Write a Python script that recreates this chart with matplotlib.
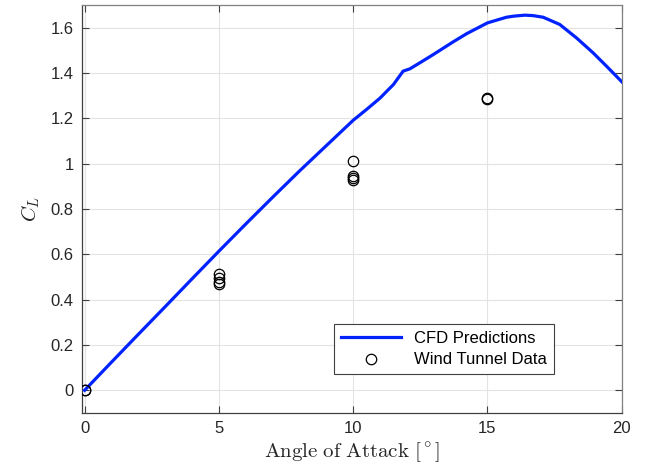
import matplotlib
matplotlib.use('Agg')
import matplotlib.pyplot as plt

# CFD curve
cfd_aoa = [0, 1, 2, 3, 4, 5, 6, 7, 8, 9, 10, 10.5, 11, 11.5, 11.86, 12.11,
           12.5, 12.98, 13.72, 14.22, 15.0, 15.71, 16.0, 16.39, 16.7, 17.07,
           17.69, 18.31, 18.93, 19.43, 20]
cfd_cl = [0, 0.124, 0.247, 0.369, 0.492, 0.614, 0.734, 0.852, 0.968, 1.08, 1.192,
          1.24, 1.29, 1.35, 1.409, 1.419, 1.447, 1.482, 1.538, 1.574, 1.622,
          1.647, 1.652, 1.656, 1.654, 1.647, 1.615, 1.556, 1.490, 1.431, 1.362]

# wind tunnel points
wt_aoa = [0, 0, 5, 5, 5, 5, 10, 10, 10, 10, 15, 15]
wt_cl = [0, 0.002, 0.513, 0.496, 0.480, 0.469, 1.010, 0.946, 0.939, 0.929, 1.290, 1.285]

plt.rcParams['font.family'] = ['Liberation Sans', 'DejaVu Sans']
plt.rcParams['mathtext.fontset'] = 'cm'

fig = plt.figure(figsize=(6.45, 4.73), dpi=100)
ax = fig.add_axes([0.127, 0.127, 0.837, 0.862])

ax.plot(cfd_aoa, cfd_cl, '-', color='#0022ff', lw=2.3, label='CFD Predictions', zorder=3)
ax.plot(wt_aoa, wt_cl, 'o', mfc='none', mec='black', ms=7.5, mew=0.9,
        label='Wind Tunnel Data', zorder=4)

ax.set_xlim(-0.1, 20)
ax.set_ylim(-0.1, 1.7)
ax.set_xticks([0, 5, 10, 15, 20])
ax.set_yticks([0, 0.2, 0.4, 0.6, 0.8, 1, 1.2, 1.4, 1.6])
ax.set_yticklabels(['0', '0.2', '0.4', '0.6', '0.8', '1', '1.2', '1.4', '1.6'])

ax.grid(True, color='#e3e3e3', lw=0.8)
ax.set_axisbelow(True)
for s in ax.spines.values():
    s.set_color('#808080')
    s.set_linewidth(0.9)
ax.spines['bottom'].set_color('#404040')
ax.spines['left'].set_color('#404040')
ax.tick_params(direction='in', top=True, right=True, length=5, width=0.8,
               colors='#404040', labelsize=12, labelcolor='#262626', pad=6)

ax.set_xlabel(r'$\mathrm{Angle\ of\ Attack\ [^\circ]}$', fontsize=15, color='#262626', labelpad=3)
ax.set_ylabel(r'$C_L$', fontsize=15, color='#262626', labelpad=6)

leg = ax.legend(loc='lower left', bbox_to_anchor=(0.452, 0.075), fontsize=12,
                frameon=True, fancybox=False, framealpha=1, edgecolor='#404040',
                handlelength=3.6, borderpad=0.4, labelspacing=0.4)
leg.get_frame().set_linewidth(0.8)

fig.savefig('out.png', dpi=100)
